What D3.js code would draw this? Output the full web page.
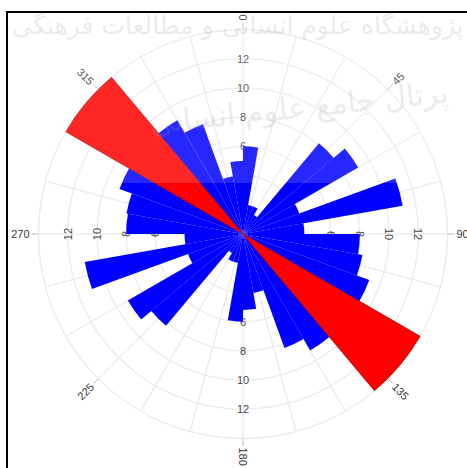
<!DOCTYPE html>
<html lang="en">
<head>
  <meta charset="UTF-8">
  <title>Rose diagram</title>
  <style>
    html, body { margin: 0; padding: 0; background: #fff; }
    svg { display: block; }
    .grid { fill: none; stroke: #ebebeb; stroke-width: 1.3px; }
    .rlabel { fill: #484848; font-family: "Liberation Sans", Arial, sans-serif; font-size: 11px; }
    .alabel { fill: #383838; font-family: "Liberation Sans", Arial, sans-serif; font-size: 11px; }
  </style>
</head>
<body>
  <svg id="chart" width="467" height="468"></svg>
  <script src="https://d3js.org/d3.v7.min.js"></script>
  <script>
    // 10 degree bins, start angle (bearing, clockwise from north)
    const binStart = [0, 10, 20, 30, 40, 50, 60, 70, 80, 90, 100, 110, 120, 130, 140, 150, 160, 170,
                      180, 190, 200, 210, 220, 230, 240, 250, 260, 270, 280, 290, 300, 310, 320, 330, 340, 350];
    const binValue = [6, 2, 2, 1.5, 8.1, 9.1, 4.1, 11.1, 4.2, 8, 8.3, 9.2, 9, 9, 9.2, 8.3, 4.1, 5.2,
                      6, 2, 2, 1.5, 8.2, 9.1, 4, 11, 4, 8, 8.1, 9, 9, 9, 9, 8, 4, 5];

    // red sectors drawn over the rose
    const sectorFrom = [120, 300];
    const sectorTo = [140, 320];
    const sectorValue = [14, 14];

    const angleTicks = [0, 45, 90, 135, 180, 225, 270, 315];
    const rings = [2, 4, 6, 8, 10, 12, 14];
    const ringLabels = [6, 8, 10, 12];
    const spokes = [0, 15, 30, 45, 60, 75, 90, 105, 120, 135, 150, 165,
                    180, 195, 210, 225, 240, 255, 270, 285, 300, 315, 330, 345];

    const cx = 243, cy = 234;
    const rad = d3.scaleLinear().domain([0, 14]).range([0, 204.5]);
    const toRad = d => d * Math.PI / 180;

    const svg = d3.select("#chart");
    const g = svg.append("g").attr("transform", `translate(${cx},${cy})`);

    // grid
    g.append("g").selectAll("circle")
      .data(rings)
      .join("circle")
      .attr("class", "grid")
      .attr("r", d => rad(d));

    g.append("g").selectAll("line")
      .data(spokes)
      .join("line")
      .attr("class", "grid")
      .attr("x2", d => rad(14) * Math.sin(toRad(d)))
      .attr("y2", d => -rad(14) * Math.cos(toRad(d)));

    // radial value labels on the four axes
    const axisDirs = [
      { a: 0, rot: 0 },
      { a: 90, rot: 90 },
      { a: 180, rot: 0 },
      { a: 270, rot: -90 }
    ];
    axisDirs.forEach(ax => {
      g.append("g").selectAll("text")
        .data(ringLabels)
        .join("text")
        .attr("class", "rlabel")
        .attr("text-anchor", "middle")
        .attr("dominant-baseline", "central")
        .attr("transform", d => {
          const x = rad(d) * Math.sin(toRad(ax.a));
          const y = -rad(d) * Math.cos(toRad(ax.a));
          return `translate(${x},${y}) rotate(${ax.rot})`;
        })
        .text(d => d);
    });

    // rose bars
    const arc = d3.arc().innerRadius(0);
    g.append("g").selectAll("path")
      .data(binStart.map((s, i) => ({ s, v: binValue[i] })))
      .join("path")
      .attr("fill", "#0000ff")
      .attr("d", d => arc({ startAngle: toRad(d.s), endAngle: toRad(d.s + 10), outerRadius: rad(d.v) }));

    // red sectors
    g.append("g").selectAll("path")
      .data(sectorFrom.map((f, i) => ({ f, t: sectorTo[i], v: sectorValue[i] })))
      .join("path")
      .attr("fill", "#ff0000")
      .attr("stroke", "#b00000")
      .attr("stroke-width", 0.8)
      .attr("d", d => arc({ startAngle: toRad(d.f), endAngle: toRad(d.t), outerRadius: rad(d.v) }));

    // direction labels with small ticks
    const tickIn = rad(14), tickOut = rad(14) + 7, textR = rad(14) + 9;
    const lab = g.append("g").selectAll("g")
      .data(angleTicks)
      .join("g");
    lab.append("line")
      .attr("stroke", "#bbb")
      .attr("x1", d => tickIn * Math.sin(toRad(d)))
      .attr("y1", d => -tickIn * Math.cos(toRad(d)))
      .attr("x2", d => tickOut * Math.sin(toRad(d)))
      .attr("y2", d => -tickOut * Math.cos(toRad(d)));
    lab.append("text")
      .attr("class", "alabel")
      .attr("dominant-baseline", "central")
      .attr("text-anchor", d => (d > 180 ? "end" : "start"))
      .attr("transform", d => {
        const x = textR * Math.sin(toRad(d));
        const y = -textR * Math.cos(toRad(d));
        const r = d > 180 ? d - 270 : d - 90;
        return `translate(${x},${y}) rotate(${r})`;
      })
      .text(d => d);

    // faint watermark band over the upper part
    svg.append("rect")
      .attr("x", 0).attr("y", 0)
      .attr("width", 467).attr("height", 183)
      .attr("fill", "#fff")
      .attr("opacity", 0.15);

    const wm = svg.append("g")
      .attr("fill", "#999")
      .attr("opacity", 0.2)
      .attr("font-family", "DejaVu Sans")
      .attr("text-anchor", "middle");
    wm.append("text")
      .attr("x", 238).attr("y", 34)
      .attr("font-size", 25)
      .text("پژوهشگاه علوم انسانی و مطالعات فرهنگی");
    wm.append("text")
      .attr("transform", "translate(300,118) rotate(-6)")
      .attr("font-size", 30)
      .text("پرتال جامع علوم انسانی");

    // frame
    svg.append("path")
      .attr("d", "M7,468V12H467")
      .attr("fill", "none")
      .attr("stroke", "#000")
      .attr("stroke-width", 2);
  </script>
</body>
</html>
